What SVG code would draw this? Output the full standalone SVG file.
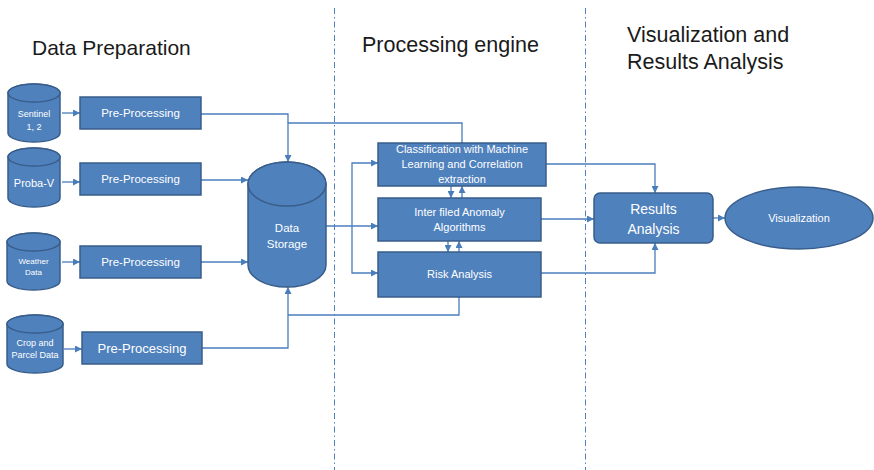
<svg xmlns="http://www.w3.org/2000/svg" width="874" height="470" viewBox="0 0 874 470">
<defs>
<marker id="ah" viewBox="0 0 10 10" refX="10" refY="5" markerWidth="7" markerHeight="7" markerUnits="userSpaceOnUse" orient="auto">
<path d="M0,0 L10,5 L0,10 Z" fill="#4A7EBB"/>
</marker>
<style>
.shape{fill:#4F81BD;stroke:#385D8A;stroke-width:1.5}
.top{fill:#4F81BD;stroke:#385D8A;stroke-width:1.5}
.t{fill:#ffffff;font-family:"Liberation Sans",Arial,sans-serif;text-anchor:middle;dominant-baseline:central}
.h{fill:#1a1a1a;font-family:"Liberation Sans",Arial,sans-serif;font-size:21.5px}
.c{fill:none;stroke:#4A7EBB;stroke-width:1.3}
.ca{fill:none;stroke:#4A7EBB;stroke-width:1.3;marker-end:url(#ah)}
.sep{fill:none;stroke:#4F81BD;stroke-width:1;stroke-dasharray:6 3 1.5 3}
</style>
</defs>
<rect width="874" height="470" fill="#ffffff"/>
<g id="separators">
<line class="sep" x1="334.5" y1="8" x2="334.5" y2="470"/>
<line class="sep" x1="585.5" y1="8" x2="585.5" y2="470"/>
</g>
<g id="titles">
<text class="h" x="32" y="55" style="font-size:21px">Data Preparation</text>
<text class="h" x="362" y="52">Processing engine</text>
<text class="h" x="627" y="42">Visualization and</text>
<text class="h" x="627" y="69">Results Analysis</text>
</g>
<g id="connectors">
<path class="ca" d="M62,113 H80"/>
<path class="ca" d="M62,182 H80"/>
<path class="ca" d="M62,262 H80"/>
<path class="ca" d="M64,349 H82"/>
<path class="c" d="M201,114 H288 V123"/>
<path class="ca" d="M462,143 V123 H288 V162"/>
<path class="ca" d="M201,180 H248"/>
<path class="ca" d="M201,262 H248"/>
<path class="ca" d="M202,348 H288 V287"/>
<path class="c" d="M459,297 V315 H288"/>
<path class="ca" d="M326,226 H378"/>
<path class="ca" d="M352,226 V163 H378"/>
<path class="ca" d="M352,226 V273 H378"/>
<path class="ca" d="M451,186 V198"/>
<path class="ca" d="M462,198 V186"/>
<path class="ca" d="M448,241 V252"/>
<path class="ca" d="M459,252 V241"/>
<path class="ca" d="M546,164 H655 V193"/>
<path class="ca" d="M541,219 H594"/>
<path class="ca" d="M541,273 H655 V243"/>
<path class="ca" d="M713,218 H725"/>
</g>
<g id="sentinel">
<path class="shape" d="M8,93 A26,9 0 0 1 60,93 V133 A26,9 0 0 1 8,133 Z"/>
<ellipse class="top" cx="34" cy="93" rx="26" ry="9"/>
<text class="t" x="34" y="114" font-size="9">Sentinel</text>
<text class="t" x="34" y="127" font-size="9">1, 2</text>
</g>
<g id="probav">
<path class="shape" d="M8,157 A26,9 0 0 1 60,157 V198 A26,9 0 0 1 8,198 Z"/>
<ellipse class="top" cx="34" cy="157" rx="26" ry="9"/>
<text class="t" x="34" y="183" font-size="11">Proba-V</text>
</g>
<g id="weather">
<path class="shape" d="M7,242 A26.5,9 0 0 1 60,242 V281 A26.5,9 0 0 1 7,281 Z"/>
<ellipse class="top" cx="33.5" cy="242" rx="26.5" ry="9"/>
<text class="t" x="33.5" y="261" font-size="8">Weather</text>
<text class="t" x="33.5" y="272" font-size="8">Data</text>
</g>
<g id="crop">
<path class="shape" d="M7,324 A28,9 0 0 1 63,324 V364 A28,9 0 0 1 7,364 Z"/>
<ellipse class="top" cx="35" cy="324" rx="28" ry="9"/>
<text class="t" x="35" y="343" font-size="9">Crop and</text>
<text class="t" x="35" y="355" font-size="9">Parcel  Data</text>
</g>
<g id="pre1">
<rect class="shape" x="80" y="97" width="121" height="32"/>
<text class="t" x="140.5" y="113" font-size="11.5">Pre-Processing</text>
</g>
<g id="pre2">
<rect class="shape" x="80" y="163" width="121" height="32"/>
<text class="t" x="140.5" y="179" font-size="11.5">Pre-Processing</text>
</g>
<g id="pre3">
<rect class="shape" x="80" y="246" width="121" height="32"/>
<text class="t" x="140.5" y="262" font-size="11.5">Pre-Processing</text>
</g>
<g id="pre4">
<rect class="shape" x="82" y="332" width="120" height="32"/>
<text class="t" x="142" y="348" font-size="13">Pre-Processing</text>
</g>
<g id="storage">
<path class="shape" d="M248,184 A39,22 0 0 1 326,184 V265 A39,22 0 0 1 248,265 Z"/>
<ellipse class="top" cx="287" cy="184" rx="39" ry="22"/>
<text class="t" x="287" y="228" font-size="11.5">Data</text>
<text class="t" x="287" y="244" font-size="11.5">Storage</text>
</g>
<g id="classification">
<rect class="shape" x="378" y="143" width="168" height="43"/>
<text class="t" x="462" y="149" font-size="11">Classification with Machine</text>
<text class="t" x="462" y="164" font-size="11">Learning and Correlation</text>
<text class="t" x="462" y="179" font-size="11">extraction</text>
</g>
<g id="anomaly">
<rect class="shape" x="378" y="198" width="163" height="43"/>
<text class="t" x="459.5" y="212" font-size="11">Inter filed Anomaly</text>
<text class="t" x="459.5" y="227" font-size="11">Algorithms</text>
</g>
<g id="risk">
<rect class="shape" x="378" y="252" width="163" height="45"/>
<text class="t" x="459.5" y="274" font-size="11">Risk Analysis</text>
</g>
<g id="results">
<rect class="shape" x="594" y="193" width="119" height="50" rx="6"/>
<text class="t" x="653.5" y="209" font-size="14">Results</text>
<text class="t" x="653.5" y="229" font-size="14">Analysis</text>
</g>
<g id="visualization">
<ellipse class="shape" cx="799" cy="218" rx="74" ry="31"/>
<text class="t" x="799" y="218" font-size="11">Visualization</text>
</g>
</svg>
